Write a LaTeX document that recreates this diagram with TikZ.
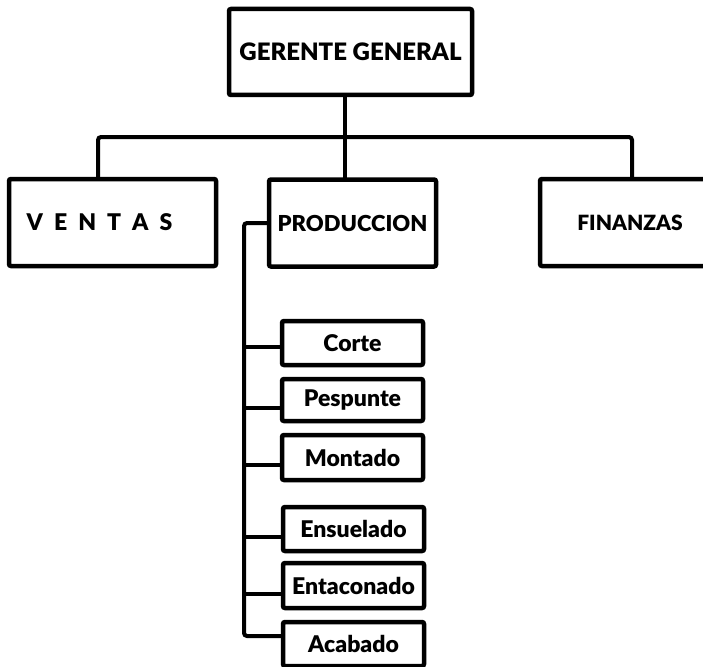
\documentclass[tikz,border=0pt]{standalone}
\usepackage{fontspec}
\setmainfont{Liberation Sans}
\newfontfamily\heavyfont{Lato Black}
\begin{document}
\begin{tikzpicture}[x=1pt,y=-1pt,
  box/.style={draw=black,line width=4.5pt,rounded corners=2pt,fill=white,inner sep=0pt,
    font=\heavyfont\fontsize{23}{23}\selectfont},
  bigbox/.style={box,minimum width=#1,minimum height=87pt},
  subbox/.style={box,minimum width=141pt,minimum height=44pt},
  link/.style={draw=black,line width=4pt,rounded corners=3pt}]
\useasboundingbox (0,0) rectangle (703,666);
\clip (0,0) rectangle (703,666);
\fill[white] (0,0) rectangle (703,666);
% coordinates
\coordinate (busL) at (98,137);
\coordinate (busR) at (632,137);
\coordinate (mid) at (345,137);
\coordinate (spine) at (244,223);
\coordinate (spineEnd) at (244,636);
% connectors (drawn first)
\draw[link] (98,222) |- (busR) -- (632,222);
\draw[link] (mid |- 0,52) -- (mid |- 0,223);
% nodes
\node[bigbox=243pt,minimum height=86pt,font=\heavyfont\fontsize{24}{24}\selectfont] (gg) at (350.5,52) {GERENTE GENERAL};
\node[bigbox=207pt,font=\heavyfont\fontsize{23}{23}\selectfont] (ventas) at (112.5,222.5) {V\hspace{11pt}E\hspace{11pt}N\hspace{11pt}T\hspace{11pt}A\hspace{11pt}S\kern26pt\relax};
\node[bigbox=167pt,font=\heavyfont\fontsize{22}{22}\selectfont] (prod) at (352.5,223) {PRODUCCION};
\node[bigbox=180pt,font=\heavyfont\fontsize{21}{21}\selectfont] (fin) at (630,222.5) {FINANZAS};
\node[subbox] (corte) at (352.5,343) {Corte};
\node[subbox,minimum height=42pt] (pesp) at (352.5,400) {Pespunte};
\node[subbox,minimum height=45pt] (mont) at (352.5,457.5) {Montado};
\node[subbox] (ensu) at (353.5,529) {Ensuelado};
\node[subbox,minimum height=45pt] (enta) at (353.5,585.5) {Entaconado};
\node[subbox] (acab) at (353.5,644) {Acabado};
% production spine
\draw[link] (prod.west |- spine) -- (spine) -- (spineEnd) -- (acab.west |- spineEnd);
\draw[link] ([yshift=-4pt]corte.west) -- ([yshift=-4pt]corte.west -| spine);
\draw[link] ([yshift=-8pt]pesp.west) -- ([yshift=-8pt]pesp.west -| spine);
\draw[link] ([yshift=-7pt]mont.west) -- ([yshift=-7pt]mont.west -| spine);
\draw[link] ([yshift=-8pt]ensu.west) -- ([yshift=-8pt]ensu.west -| spine);
\draw[link] ([yshift=-8pt]enta.west) -- ([yshift=-8pt]enta.west -| spine);
\end{tikzpicture}
\end{document}
